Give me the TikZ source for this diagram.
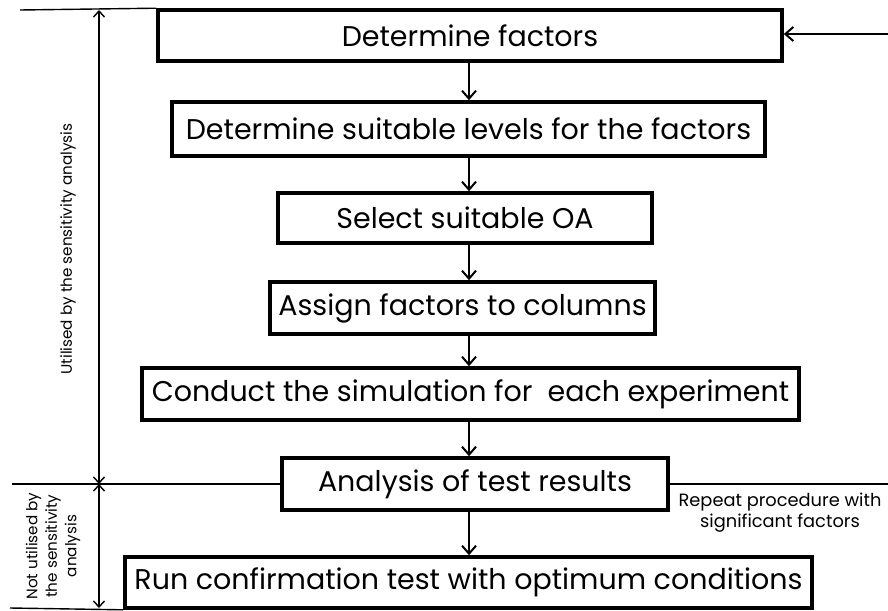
\documentclass[tikz,border=0pt]{standalone}
\usepackage{fontspec}
\setmainfont{Poppins}
\usetikzlibrary{arrows.meta,calc}
\begin{document}
\begin{tikzpicture}[x=1pt,y=-1pt,
  box/.style={draw=black,line width=3.6pt,inner sep=0pt,align=center,
    font=\fontsize{28.5}{32}\selectfont},
  conn/.style={line width=2pt,-{Straight Barb[length=8pt,width=14pt,line width=2pt]}},
  thin/.style={line width=1.4pt},
  dim/.style={line width=1.4pt,{Straight Barb[length=6pt,width=11pt,line width=1.4pt]}-{Straight Barb[length=6pt,width=11pt,line width=1.4pt]}},
  lab/.style={font=\fontsize{15.2}{19.5}\selectfont,align=center,inner sep=0pt},
  small/.style={font=\fontsize{17.8}{21}\selectfont,align=center,inner sep=0pt}]
\useasboundingbox (0,0) rectangle (888,610);
\node[box,minimum width=624pt,minimum height=51pt] (b1) at (470,35.5) {Determine factors};
\node[box,minimum width=593pt,minimum height=54pt] (b2) at (468.5,129) {Determine suitable levels for the factors};
\node[box,minimum width=374pt,minimum height=50pt] (b3) at (465,218) {Select suitable OA};
\node[box,minimum width=385pt,minimum height=52pt] (b4) at (462.5,308) {Assign factors to columns};
\node[box,minimum width=657pt,minimum height=52pt] (b5) at (470.5,394) {Conduct the simulation for\ \ each experiment};
\node[box,minimum width=386pt,minimum height=52pt] (b6) at (475,484) {Analysis of test results};
\node[box,minimum width=687pt,minimum height=51pt] (b7) at (468.5,582.5) {Run confirmation test with optimum conditions};
\coordinate (ax) at (469,0);
\foreach \a/\b in {b1/b2,b2/b3,b3/b4,b4/b5,b5/b6,b6/b7}
  \draw[conn] (\a.south -| ax) -- (\b.north -| ax);
% right side
\coordinate (rtop) at (888,34);
\coordinate (rmid) at (888,484);
\draw[conn] (rtop) -- (rtop -| b1.east);
\draw[thin] (b6.east) -- (rmid);
\node[small] (rep) at (780,513) {Repeat procedure with\\significant factors};
% left side
\coordinate (tl) at (20,10);
\coordinate (ml) at (12,484);
\coordinate (bl) at (10,608);
\coordinate (v1) at (99,10);
\coordinate (v2) at (99,484);
\coordinate (v3) at (99,608);
\draw[thin] (tl) -- (b1.north west);
\draw[thin] (ml) -- (b6.west);
\draw[thin] (bl) -- (b7.south west);
\draw[dim] (v1) -- (v2);
\draw[dim] (v2) -- (v3);
\node[lab,rotate=90] (u1) at (68,249) {Utilised by the sensitivity analysis};
\node[lab,rotate=90] (u2) at (53,546) {Not utilised by\\the sensitivity\\analysis};
\end{tikzpicture}
\end{document}
